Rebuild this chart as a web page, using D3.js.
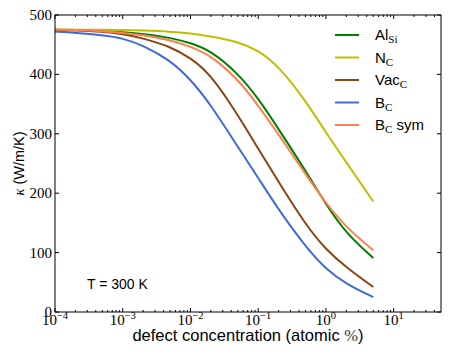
<!DOCTYPE html>
<html>
<head>
<meta charset="utf-8">
<script src="https://cdn.jsdelivr.net/npm/d3@7"></script>
<style>
  body { margin: 0; background: #fff; }
  svg { display: block; }
</style>
</head>
<body>
<svg id="chart" width="463" height="360"></svg>
<script>
// defect concentrations (atomic %)
const conc = [1e-4, 2e-4, 5e-4, 1e-3, 2e-3, 5e-3, 1e-2, 2e-2, 5e-2, 0.1, 0.2, 0.5, 1, 2, 5];

// kappa (W/m/K)
const alSi   = [475, 475, 474, 471, 468, 462, 453, 440, 402, 360, 308, 238, 181, 132, 91];
const nC     = [475, 475, 475, 475, 474, 472, 469, 464, 455, 441, 414, 356, 302, 252, 186];
const vacC   = [475, 474, 472, 468, 461, 447, 428, 400, 332, 275, 219, 147, 105, 75, 42];
const bC     = [472, 470, 466, 461, 449, 424, 392, 349, 278, 226, 172, 110, 72, 47, 25];
const bCsym  = [475, 475, 473, 470, 466, 458, 447, 432, 392, 348, 299, 232, 183, 142, 104];

const seriesNames = [["Al", "Si", ""], ["N", "C", ""], ["Vac", "C", ""], ["B", "C", ""], ["B", "C", " sym"]];
const seriesValues = [alSi, nC, vacC, bC, bCsym];
const seriesColors = ["#008000", "#bfbf00", "#8b4513", "#4169e1", "#ff7f50"];

const yTicks = [0, 100, 200, 300, 400, 500];
const xTickExps = [-4, -3, -2, -1, 0, 1];

const margin = { left: 55, top: 15, right: 22, bottom: 48 };
const width = 463, height = 360;

const svg = d3.select("#chart");

const x = d3.scaleLog()
    .domain([1e-4, 50])
    .range([margin.left, width - margin.right]);
const y = d3.scaleLinear()
    .domain([0, 500])
    .range([height - margin.bottom, margin.top]);

const serif = "'Liberation Serif', 'DejaVu Serif', serif";
const sans = "'Liberation Sans', Arial, sans-serif";

// curves
const line = d3.line()
    .x(d => x(d[0]))
    .y(d => y(d[1]))
    .curve(d3.curveBasis);

svg.append("g")
    .attr("class", "lines")
    .selectAll("path")
    .data(seriesValues)
    .enter().append("path")
    .attr("fill", "none")
    .attr("stroke", (d, i) => seriesColors[i])
    .attr("stroke-width", 2)
    .attr("d", d => line(conc.map((c, j) => [c, d[j]])));

// frame
svg.append("rect")
    .attr("x", x.range()[0])
    .attr("y", y.range()[1])
    .attr("width", x.range()[1] - x.range()[0])
    .attr("height", y.range()[0] - y.range()[1])
    .attr("fill", "none")
    .attr("stroke", "#000")
    .attr("stroke-width", 1);

// x ticks (major + minor, inside, top and bottom)
let minor = [];
for (let e = -4; e <= 1; e++) {
    for (let k = 2; k <= 9; k++) {
        const v = k * Math.pow(10, e);
        if (v < 50) minor.push(v);
    }
}
const ticks = svg.append("g").attr("stroke", "#000").attr("stroke-width", 1);
const yb = y(0), yt = y(500);
xTickExps.forEach(e => {
    const px = x(Math.pow(10, e));
    ticks.append("line").attr("x1", px).attr("x2", px).attr("y1", yb).attr("y2", yb - 4);
    ticks.append("line").attr("x1", px).attr("x2", px).attr("y1", yt).attr("y2", yt + 4);
});
minor.forEach(v => {
    const px = x(v);
    ticks.append("line").attr("x1", px).attr("x2", px).attr("y1", yb).attr("y2", yb - 2);
    ticks.append("line").attr("x1", px).attr("x2", px).attr("y1", yt).attr("y2", yt + 2);
});
const xl = x.range()[0], xr = x.range()[1];
yTicks.forEach(v => {
    const py = y(v);
    ticks.append("line").attr("x1", xl).attr("x2", xl + 4).attr("y1", py).attr("y2", py);
    ticks.append("line").attr("x1", xr).attr("x2", xr - 4).attr("y1", py).attr("y2", py);
});

// y tick labels
svg.append("g")
    .selectAll("text")
    .data(yTicks)
    .enter().append("text")
    .attr("x", xl - 3)
    .attr("y", d => y(d) + 5)
    .attr("text-anchor", "end")
    .attr("font-family", serif)
    .attr("font-size", 15)
    .attr("fill", "#000")
    .text(d => d);

// x tick labels 10^e
const xLabels = svg.append("g")
    .selectAll("text")
    .data(xTickExps)
    .enter().append("text")
    .attr("x", d => x(Math.pow(10, d)))
    .attr("y", yb + 13)
    .attr("text-anchor", "middle")
    .attr("font-family", serif)
    .attr("font-size", 15)
    .attr("fill", "#000");
xLabels.append("tspan").text("10");
xLabels.append("tspan")
    .attr("dy", -6)
    .attr("font-size", 10.5)
    .text(d => d < 0 ? "\u2212" + (-d) : d);

// axis labels
const xLab = svg.append("text")
    .attr("x", (xl + xr) / 2)
    .attr("y", 341)
    .attr("text-anchor", "middle")
    .attr("font-family", sans)
    .attr("font-size", 16.5)
    .attr("fill", "#000");
xLab.append("tspan").text("defect concentration (atomic ");
xLab.append("tspan").attr("font-family", serif).attr("fill", "#333").text("%");
xLab.append("tspan").text(")");

const yLab = svg.append("text")
    .attr("transform", `translate(24, ${(y(0) + y(500)) / 2}) rotate(-90)`)
    .attr("text-anchor", "middle")
    .attr("font-family", sans)
    .attr("font-size", 14.5)
    .attr("fill", "#000");
yLab.append("tspan").attr("font-family", serif).attr("font-style", "italic").text("\u03ba");
yLab.append("tspan").text(" (W/m/K)");

// temperature note
svg.append("text")
    .attr("x", 87)
    .attr("y", 289)
    .attr("font-family", sans)
    .attr("font-size", 14)
    .attr("fill", "#000")
    .text("T = 300 K");

// legend
const legend = svg.append("g")
    .selectAll("g")
    .data(seriesNames)
    .enter().append("g")
    .attr("transform", (d, i) => `translate(335, ${35 + i * 22.5})`);
legend.append("line")
    .attr("x1", 0).attr("x2", 24)
    .attr("stroke", (d, i) => seriesColors[i])
    .attr("stroke-width", 2);
const legText = legend.append("text")
    .attr("x", 40)
    .attr("y", 5)
    .attr("font-family", sans)
    .attr("font-size", 15)
    .attr("fill", "#000");
legText.append("tspan").text(d => d[0]);
legText.append("tspan")
    .attr("dy", 3)
    .attr("font-family", serif)
    .attr("font-size", 11)
    .text(d => d[1]);
legText.append("tspan")
    .attr("dy", -3)
    .text(d => d[2]);
</script>
</body>
</html>
